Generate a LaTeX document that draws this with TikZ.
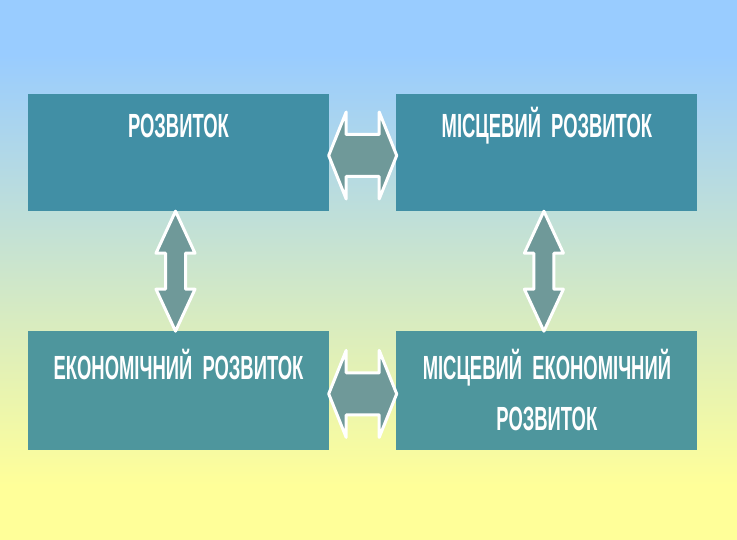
\documentclass[tikz,border=0pt]{standalone}
\usepackage{fontspec}
\newfontfamily\slidefont[FakeStretch=0.55]{Liberation Sans}
\usetikzlibrary{positioning,calc}

\definecolor{skyblue}{RGB}{153,204,255}
\definecolor{fieldyellow}{RGB}{255,255,153}
\definecolor{boxtop}{RGB}{65,143,165}
\definecolor{boxlow}{RGB}{78,150,157}
\definecolor{arrowfill}{RGB}{111,153,153}

\pgfdeclareverticalshading{skyfield}{100bp}{color(0bp)=(fieldyellow); color(30bp)=(fieldyellow); color(70bp)=(skyblue); color(100bp)=(skyblue)}

% double block arrows between boxes
\newcommand{\linkside}[2]{%
  \draw[blockarrow] let \p1=(#1.east), \p2=(#2.west) in
    (\x1-0.5pt,\y1-3pt) -- (\x1+17pt,\y1+40.5pt) -- (\x1+17pt,\y1+18pt) -- (\x2-17pt,\y1+18pt)
    -- (\x2-17pt,\y1+40.5pt) -- (\x2+0.5pt,\y1-3pt) -- (\x2-17pt,\y1-46.5pt) -- (\x2-17pt,\y1-24pt)
    -- (\x1+17pt,\y1-24pt) -- (\x1+17pt,\y1-46.5pt) -- cycle;}
\newcommand{\linkdown}[2]{%
  \draw[blockarrow] let \p1=(#1.south), \p2=(#2.north) in
    (\x1-3pt,\y1) -- (\x1+16.5pt,\y1-42pt) -- (\x1+7pt,\y1-42pt) -- (\x1+7pt,\y2+42pt)
    -- (\x1+16.5pt,\y2+42pt) -- (\x1-3pt,\y2) -- (\x1-22.5pt,\y2+42pt) -- (\x1-13pt,\y2+42pt)
    -- (\x1-13pt,\y1-42pt) -- (\x1-22.5pt,\y1-42pt) -- cycle;}

\begin{document}
\begin{tikzpicture}[
    x=1pt, y=1pt,
    box/.style={rectangle, minimum width=301pt, minimum height=117pt, inner sep=0pt},
    boxtext/.style={text=white, anchor=base, inner sep=0pt, font=\slidefont\bfseries\fontsize{33.5}{40}\selectfont},
    blockarrow/.style={draw=white, line width=3pt, line join=round, fill=arrowfill}
]
    \fill[shading=skyfield] (0,0) rectangle (737,540);

    \node[box, fill=boxtop] (rozv) at (178.5,387.5) {};
    \node[box, fill=boxtop, right=67pt of rozv] (misc) {};
    \node[box, fill=boxlow, minimum height=119pt, below=120pt of rozv] (ekon) {};
    \node[box, fill=boxlow, minimum height=119pt, below=120pt of misc] (misek) {};

    \node[boxtext] (rozvtext) at ([yshift=-44pt]rozv.north) {РОЗВИТОК};
    \node[boxtext] (misctext) at ([yshift=-44pt]misc.north) {МІСЦЕВИЙ~~РОЗВИТОК};
    \node[boxtext] (ekontext) at ([yshift=-48pt]ekon.north) {ЕКОНОМІЧНИЙ~~РОЗВИТОК};
    \node[boxtext] (misektext) at ([yshift=-48pt]misek.north) {МІСЦЕВИЙ~~ЕКОНОМІЧНИЙ};
    \node[boxtext] (misektext2) at ([yshift=-99pt]misek.north) {РОЗВИТОК};

    \linkside{rozv}{misc}
    \linkside{ekon}{misek}
    \linkdown{rozv}{ekon}
    \linkdown{misc}{misek}
\end{tikzpicture}
\end{document}
